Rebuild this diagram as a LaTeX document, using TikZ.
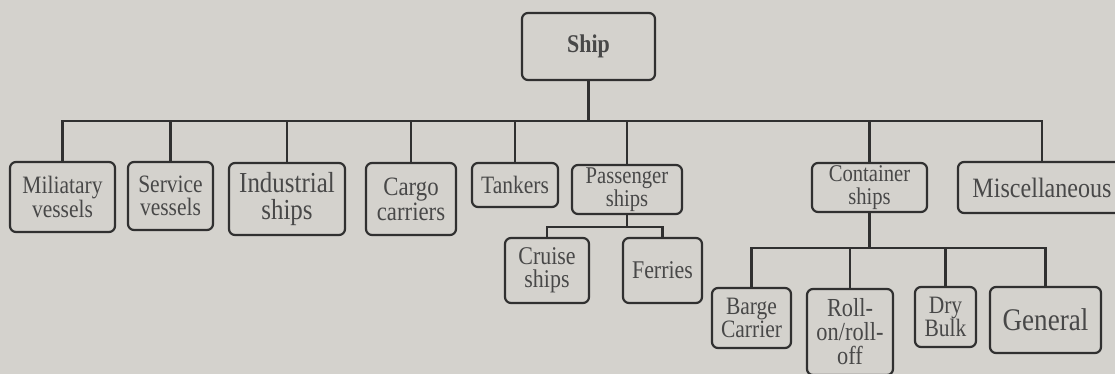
\documentclass[tikz,border=0pt]{standalone}
\usepackage{fontspec}
\setmainfont[FakeStretch=0.86]{Liberation Serif}
\definecolor{bgc}{RGB}{212,210,205}
\definecolor{linec}{RGB}{48,48,48}
\definecolor{textc}{RGB}{72,72,72}
\tikzset{
  fs/.style 2 args={font=\fontsize{#1}{#2}\selectfont},
  wh/.style 2 args={minimum width=#1pt, minimum height=#2pt},
  box/.style={draw=linec, line width=2.2pt, rounded corners=6pt, inner sep=0pt,
              align=center, text=textc, fs={25.5}{22}},
  conn/.style={draw=linec, line width=2.2pt, line join=miter}
}
\begin{document}
\begin{tikzpicture}[x=1pt,y=-1pt]
\useasboundingbox (0,0) rectangle (1115,374);
\fill[bgc] (0,0) rectangle (1115,374);
\clip (0,0) rectangle (1115,374);
% level 0
\node[box, wh={133}{67}, font=\bfseries\fontsize{25.5}{25}\selectfont] (ship) at (588.5,46.5) {Ship};
% level 1
\node[box, wh={105}{70}, fs={25}{22.5}] (mil) at (62.5,197) {Miliatary\\vessels};
\node[box, wh={85}{68}, fs={25}{23}] (serv) at (170.5,196) {Service\\vessels};
\node[box, wh={116}{72}, fs={29}{27}] (ind) at (287,199) {Industrial\\ships};
\node[box, wh={90}{72}, fs={26.5}{25}] (cargo) at (411,199) {Cargo\\carriers};
\node[box, wh={86}{44}, fs={25}{25}] (tank) at (515,185) {Tankers};
\node[box, wh={110}{49}, fs={24}{21.5}] (pass) at (627,189.5) {Passenger\\ships};
\node[box, wh={115}{49}, fs={24}{23}] (cont) at (869.5,187.5) {Container\\ships};
\node[box, wh={168}{51}, fs={28}{28}] (misc) at (1042,187.5) {Miscellaneous};
% level 2 (passenger)
\node[box, wh={84}{65}, fs={25.5}{23}] (cruise) at (547,270.5) {Cruise\\ships};
\node[box, wh={79}{65}, fs={25.5}{25}] (ferries) at (662.5,270.5) {Ferries};
% level 2 (container)
\node[box, wh={79}{60}, fs={25}{23}] (barge) at (751.5,318) {Barge\\Carrier};
\node[box, wh={86}{86}, fs={26}{24}] (roll) at (850,332) {Roll-\\on/roll-\\off};
\node[box, wh={61}{60}, fs={25}{23}] (dry) at (945.5,317) {Dry\\Bulk};
\node[box, wh={111}{66}, fs={31.5}{30}] (gen) at (1045.5,320) {General};
% bus levels
\coordinate (bus) at (0,121);
\coordinate (pbus) at (0,227);
\coordinate (cbus) at (0,248);
% connectors
\draw[conn] (ship.south) -- (ship.south |- bus);
\draw[conn] (mil.north) -- (mil.north |- bus) -- (misc.north |- bus) -- (misc.north);
\foreach \n in {serv,ind,cargo,tank,pass,cont}
  \draw[conn] (\n.north) -- (\n.north |- bus);
\draw[conn] (pass.south) -- (pass.south |- pbus);
\draw[conn] (cruise.north) -- (cruise.north |- pbus) -- (ferries.north |- pbus) -- (ferries.north);
\draw[conn] (cont.south) -- (cont.south |- cbus);
\draw[conn] (barge.north) -- (barge.north |- cbus) -- (gen.north |- cbus) -- (gen.north);
\foreach \n in {roll,dry}
  \draw[conn] (\n.north) -- (\n.north |- cbus);
\end{tikzpicture}
\end{document}
